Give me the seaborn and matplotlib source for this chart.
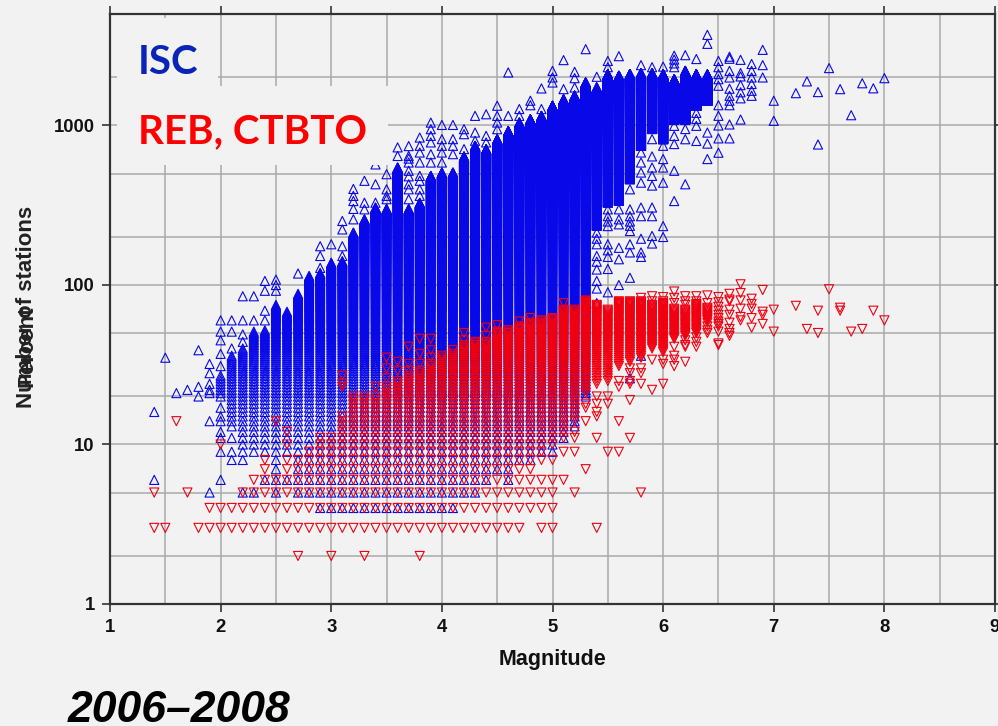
import matplotlib
matplotlib.use("Agg")
import matplotlib.pyplot as plt
from matplotlib.patches import Rectangle
from matplotlib.ticker import FixedLocator, NullFormatter
import pandas as pd
import seaborn as sns

isc_mag = [1.4,1.5,1.6,1.7,1.8,1.9,2.0,2.1,2.2,2.3,2.4,2.5,2.6,2.7,2.8,2.9,3.0,3.1,3.2,3.3,3.4,3.5,3.6,3.7,3.8,3.9,
           4.0,4.1,4.2,4.3,4.4,4.5,4.6,4.7,4.8,4.9,5.0,5.1,5.2,5.3,5.4,5.5,5.6,5.7,5.8,5.9,6.0,6.1,6.2,6.3,6.4,
           6.5,6.6,6.7,6.8,6.9,7.0,7.2,7.3,7.4,7.5,7.6,7.7,7.8,7.9,8.0]
# every integer count from low to high occurs in the column; 0 / -1 marks a column without a solid run
isc_low = [0,0,0,0,0,0,20,13,9,9,9,5,9,5,5,4,4,4,4,4,4,4,4,4,4,4,
           4,4,5,5,6,7,6,8,8,9,9,11,13,20,235,328,337,460,745,950,820,1090,1090,1330,1430,
           0,0,0,0,0,0,0,0,0,0,0,0,0,0,0]
isc_high = [-1,-1,-1,-1,-1,-1,27,36,40,51,52,75,68,88,114,119,138,141,213,258,306,300,545,300,328,483,
            507,507,640,746,711,821,925,1044,1095,1149,1330,1460,1540,1860,1730,2100,2050,2100,2130,2130,2100,1950,2200,2100,2090,
            -1,-1,-1,-1,-1,-1,-1,-1,-1,-1,-1,-1,-1,-1,-1]
isc_other = [[16,6],[35],[21],[22],[39,23,20],[32,28,24,22,21,14,5],
             [60,51,45,37,31,17,15,14,12,11,9,6],[60,51,40,11,9,8],[85,60,49,44,8,5],[85,60,5],
             [106,92,69,60,6],[108,100,92],[6],[118],[],[128,152,175],[180],[152,175,223,252],
             [258,300,336,362,400],[298,328,450],[328,428,570],[345,362,398,495],[644,729],
             [345,398,428,480,520,586,620,644,743],[362,398,450,483,586,677,746,840],[586,661,783,861,948,1043],
             [586,677,746,821,1008],[661,746,821,1008],[711,882,948],[802,903,1149],[783,861,1176],
             [948,1044,1149,1330],[1149,2150],[1149,1268],[1340,1430],[1268,1707],[1860,2000,2200],[1690,2570],
             [1730,1980,2170],[3010],[2020,213,195,180,152,140,125,106,95,77],
             [298,270,250,234,180,165,150,126,90,2320,2540],[298,258,240,171,145,100,2720],
             [398,298,270,250,235,218,180,160,111,26],[677,586,507,438,306,270,195,160,150,36,2390],
             [821,640,545,483,420,306,270,203,182,2320],[746,616,545,438,234,200,2340],
             [995,860,765,520,336,2320,2450,2590,2740],[950,820,428,2760],[1200,1100,995,800,2610],[903,770,616,3250,3700],
             [2540,2320,2100,1950,1775,1340,1150,1000,830,675],[2700,2620,2200,2000,1700,1535,1430,1340,1015,830],
             [2580,2130,2030,1790,1615,1480,1090],[2430,2200,2000,1820,1650,1535],[2980,2390,2000],[1430,1070],
             [1595],[1890],[1620,760],[2290],[1690],[1160],[1840],[1710],[1980]]

reb_mag = [1.4,1.5,1.6,1.7,1.8,1.9,2.0,2.1,2.2,2.3,2.4,2.5,2.6,2.7,2.8,2.9,3.0,3.1,3.2,3.3,3.4,3.5,3.6,3.7,3.8,3.9,
           4.0,4.1,4.2,4.3,4.4,4.5,4.6,4.7,4.8,4.9,5.0,5.1,5.2,5.3,5.4,5.5,5.6,5.7,5.8,5.9,6.0,6.1,6.2,6.3,6.4,
           6.5,6.6,6.7,6.8,6.9,7.0,7.2,7.3,7.4,7.5,7.6,7.7,7.8,7.9,8.0]
reb_low = [0,0,0,0,0,0,0,0,0,0,0,0,0,0,0,3,3,3,3,3,3,3,3,3,3,3,
           3,3,3,3,3,3,3,3,4,8,10,11,14,21,24,25,31,33,35,40,38,46,48,50,60,
           0,0,0,0,0,0,0,0,0,0,0,0,0,0,0]
reb_high = [-1,-1,-1,-1,-1,-1,-1,-1,-1,-1,-1,-1,-1,-1,-1,11,11,15,20,20,20,23,25,27,29,32,
            36,37,42,44,44,50,52,55,58,60,62,70,70,80,75,70,79,79,79,75,77,71,70,76,72,
            -1,-1,-1,-1,-1,-1,-1,-1,-1,-1,-1,-1,-1,-1,-1]
reb_other = [[5,3],[3],[14],[5],[3],[4,3],[10,4,3],[4,3],[5,4,3],[6,5,4,3],[8,7,6,5,4,3],[14,6,5,4,3],
             [12,10,8,7,6,5,4,3],[8,7,6,5,4,3,2],[9,8,7,6,5,4,3],[],[2],[27,24,23],[],[2],[23],[35,30,26],[33,29],
             [41,32,29],[46,37,32,2],[46,39,35],[],[39],[50,45],[],[54,48],[56,51],[],[59],[62],[6,5,4,3],
             [8,6,5,4,3],[77,9,6],[12,11,9,5],[18,17,14,7],[20,18,16,15,11,3],[20,18,9],[25,23,14,9],
             [30,28,25,24,19,11],[30,28,24,83,5],[34,22,85,79],[34,32,24,84,79],[41,36,34,31,91,83,77],
             [45,42,41,33,85,79,75],[47,44,41,85,79],[58,55,52,50,86,77],
             [84,78,73,69,65,62,59,57,55,51,43,42],[88,81,79,70,65,58,53,50,48],[101,89,80,71,63,60],
             [82,76,71,62,54],[93,68,65,57],[70,51],[74],[53],[69,50],[94],[72,69],[51],[53],[69],[60]]


def expand(mags, low, high, other):
    rows = []
    for m, a, b, extra in zip(mags, low, high, other):
        rows += [(m, v) for v in range(a, b + 1)]
        rows += [(m, v) for v in extra]
    return pd.DataFrame(rows, columns=["Magnitude", "Stations"])


BG = "#f2f2f2"
sns.set_theme(style="white", rc={"figure.facecolor": BG, "axes.facecolor": BG})
plt.rcParams["font.family"] = ["Liberation Sans", "DejaVu Sans"]

W, H = 998, 726
fig = plt.figure(figsize=(W / 100, H / 100), dpi=100)
ax = fig.add_axes([110 / W, (H - 604) / H, (995 - 110) / W, (604 - 14) / H])

ax.set_xscale("linear")
ax.set_yscale("log")
ax.set_xlim(1, 9)
ax.set_ylim(1, 5000)

sns.scatterplot(data=expand(isc_mag, isc_low, isc_high, isc_other), x="Magnitude", y="Stations", ax=ax,
                marker="^", s=43, facecolors="none", edgecolors="#0808e8", linewidth=0.8, zorder=3, legend=False)
sns.scatterplot(data=expand(reb_mag, reb_low, reb_high, reb_other), x="Magnitude", y="Stations", ax=ax,
                marker="v", s=43, facecolors="none", edgecolors="#f00010", linewidth=0.8, zorder=4, legend=False)

ax.xaxis.set_major_locator(FixedLocator(range(1, 10)))
ax.xaxis.set_minor_locator(FixedLocator([1.5, 2.5, 3.5, 4.5, 5.5, 6.5, 7.5, 8.5]))
ax.yaxis.set_major_locator(FixedLocator([1, 10, 100, 1000]))
ax.yaxis.set_minor_locator(FixedLocator([2, 5, 20, 50, 200, 500, 2000]))
ax.yaxis.set_major_formatter(matplotlib.ticker.FuncFormatter(lambda v, _: f"{v:.0f}"))
ax.yaxis.set_minor_formatter(NullFormatter())
ax.xaxis.set_minor_formatter(NullFormatter())
ax.grid(True, which="both", color="#aaaaaa", lw=1.1)
ax.set_axisbelow(True)
ax.tick_params(which="major", direction="out", length=6, width=1.2, color="#333333",
               top=True, right=True, left=True, bottom=True, pad=5)
ax.tick_params(which="minor", length=0)
for lab in ax.get_xticklabels() + ax.get_yticklabels():
    lab.set_fontsize(13.3)
    lab.set_fontweight("bold")
    lab.set_color("#111111")
for s in ax.spines.values():
    s.set_visible(True)
    s.set_color("#333333")
    s.set_linewidth(1.6)
    s.set_zorder(6)

ax.set_xlabel("")
ax.set_ylabel("")
fig.text(552 / W, 1 - 660 / H, "Magnitude", ha="center", va="center", fontsize=15.5, fontweight="bold", color="#111111")
fig.text(27 / W, 1 - 408 / H, "Number of stations", rotation=90, ha="center", va="bottom",
         fontsize=16, fontweight="bold", color="#222222")
fig.text(27 / W, 1 - 346 / H, "Percent", rotation=90, ha="center", va="center",
         fontsize=16, fontweight="bold", color="#222222")

for x0, y0, x1, y1 in [(117, 18, 218, 86), (117, 86, 388, 165)]:
    fig.add_artist(Rectangle((x0 / W, 1 - y1 / H), (x1 - x0) / W, (y1 - y0) / H, transform=fig.transFigure,
                             facecolor=BG, edgecolor="none", zorder=5))
fig.text(138 / W, 1 - 74 / H, "ISC", fontsize=29, fontweight="bold", family="Lato", color="#0a24b8", zorder=7)
fig.text(138 / W, 1 - 143 / H, "REB, CTBTO", fontsize=29, fontweight="bold", family="Lato", color="#ff0000", zorder=7)
fig.text(68 / W, 1 - 722 / H, "2006–2008", fontsize=32, fontweight="bold", style="italic", color="#000000")

fig.savefig("out.png", dpi=100, facecolor=BG)
